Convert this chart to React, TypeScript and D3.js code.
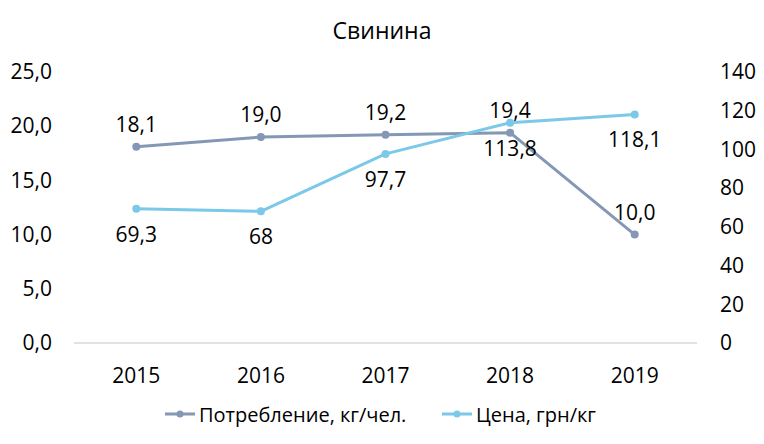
import React, { useRef, useEffect } from "react";
import * as d3 from "d3";

const years = ["2015", "2016", "2017", "2018", "2019"];
const consumption = [18.1, 19.0, 19.2, 19.4, 10.0];
const price = [69.3, 68, 97.7, 113.8, 118.1];
const leftTicks = [0, 5, 10, 15, 20, 25];
const rightTicks = [0, 20, 40, 60, 80, 100, 120, 140];
const seriesNames = ["Потребление, кг/чел.", "Цена, грн/кг"];
const colors = ["#8497b5", "#7cc8e8"];

const width = 764;
const height = 444;
const font = "'Open Sans', sans-serif";

const App: React.FC = () => {
  const svgRef = useRef<SVGSVGElement>(null);

  useEffect(() => {
    const svg = d3.select(svgRef.current);
    svg.selectAll("*").remove();
    svg.attr("width", width).attr("height", height);

    const x = d3.scaleBand().domain(years).range([74, 697]);
    const yL = d3.scaleLinear().domain([0, 25]).range([343, 72]);
    const yR = d3.scaleLinear().domain([0, 140]).range([343, 72]);
    const cx = (d: string) => (x(d) ?? 0) + x.bandwidth() / 2;

    // title
    svg.append("text")
      .attr("x", 382)
      .attr("y", 30)
      .attr("text-anchor", "middle")
      .attr("dominant-baseline", "central")
      .attr("font-family", font)
      .attr("font-size", 23)
      .attr("fill", "#000")
      .text("Свинина");

    const fmt = (v: number) => d3.format(".1f")(v).replace(".", ",");

    // left axis
    const gl = svg.append("g")
      .attr("transform", "translate(74,0)")
      .call(d3.axisLeft(yL).tickValues(leftTicks).tickSize(0).tickPadding(22).tickFormat(d => fmt(+d)));
    gl.select(".domain").remove();

    // right axis
    const gr = svg.append("g")
      .attr("transform", "translate(697,0)")
      .call(d3.axisRight(yR).tickValues(rightTicks).tickSize(0).tickPadding(23));
    gr.select(".domain").remove();

    // bottom axis
    const gb = svg.append("g")
      .attr("transform", "translate(0,343)")
      .call(d3.axisBottom(x).tickSize(0).tickPadding(25));
    gb.select(".domain").remove();

    svg.selectAll(".tick text")
      .attr("font-family", font)
      .attr("font-size", 21)
      .attr("fill", "#000");

    svg.append("line")
      .attr("x1", 74).attr("x2", 697)
      .attr("y1", yL(0)).attr("y2", yL(0))
      .attr("stroke", "#d9d9d9")
      .attr("stroke-width", 1.5);

    const series = [
      { values: consumption, scale: yL, color: colors[0], dy: -23, label: (v: number) => fmt(v) },
      { values: price, scale: yR, color: colors[1], dy: 25, label: (v: number) => String(v).replace(".", ",") },
    ];

    series.forEach(s => {
      const line = d3.line<number>()
        .x((_, i) => cx(years[i]))
        .y(d => s.scale(d));
      svg.append("path")
        .attr("d", line(s.values) ?? "")
        .attr("fill", "none")
        .attr("stroke", s.color)
        .attr("stroke-width", 3)
        .attr("stroke-linejoin", "round");
      svg.append("g").selectAll("circle")
        .data(s.values)
        .enter()
        .append("circle")
        .attr("cx", (_, i) => cx(years[i]))
        .attr("cy", d => s.scale(d))
        .attr("r", 4)
        .attr("fill", s.color);
    });

    // data labels drawn last so they sit over the lines
    series.forEach(s => {
      svg.append("g").selectAll("text")
        .data(s.values)
        .enter()
        .append("text")
        .attr("x", (_, i) => cx(years[i]))
        .attr("y", d => s.scale(d) + s.dy)
        .attr("text-anchor", "middle")
        .attr("dominant-baseline", "central")
        .attr("font-family", font)
        .attr("font-size", 21)
        .attr("fill", "#000")
        .text(d => s.label(d));
    });

    // legend
    const legendX = [165, 442];
    const legend = svg.append("g")
      .selectAll("g")
      .data(seriesNames)
      .enter()
      .append("g")
      .attr("transform", (_, i) => `translate(${legendX[i]},414)`);
    legend.append("line")
      .attr("x1", 0).attr("x2", 30)
      .attr("stroke", (_, i) => colors[i])
      .attr("stroke-width", 3);
    legend.append("circle")
      .attr("cx", 15)
      .attr("r", 3.5)
      .attr("fill", (_, i) => colors[i]);
    legend.append("text")
      .attr("x", 34)
      .attr("dominant-baseline", "central")
      .attr("font-family", font)
      .attr("font-size", 20)
      .attr("fill", "#000")
      .text(d => d);
  }, []);

  return (
    <div style={{ position: "absolute", left: 0, top: 0, width, height, background: "#fff" }}>
      <svg ref={svgRef} style={{ display: "block" }} />
    </div>
  );
};

export default App;
